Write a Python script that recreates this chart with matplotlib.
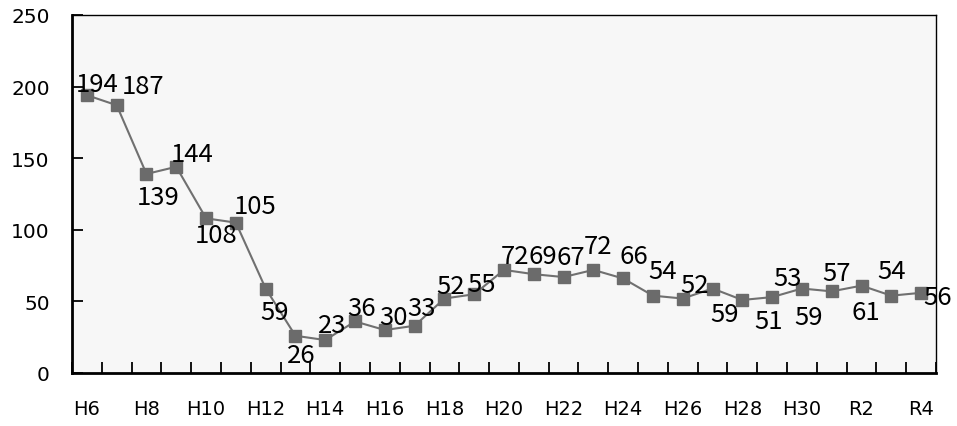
import numpy as np
import matplotlib.pyplot as plt

plt.rcParams['font.family'] = ['DejaVu Sans']

# 年度 (H6 ... H31, R2 ... R4)
nendo = ['H6', 'H7', 'H8', 'H9', 'H10', 'H11', 'H12', 'H13', 'H14', 'H15',
         'H16', 'H17', 'H18', 'H19', 'H20', 'H21', 'H22', 'H23', 'H24', 'H25',
         'H26', 'H27', 'H28', 'H29', 'H30', 'H31', 'R2', 'R3', 'R4']
valores = [194, 187, 139, 144, 108, 105, 59, 26, 23, 36,
           30, 33, 52, 55, 72, 69, 67, 72, 66, 54,
           52, 59, 51, 53, 59, 57, 61, 54, 56]

# desplazamiento de cada etiqueta en pixeles (dx, dy hacia arriba)
desp = [(10, 11), (26, 19), (12, -23), (16, 13), (10, -17), (19, 17), (9, -23),
        (6, -19), (7, 15), (7, 13), (9, 13), (7, 18), (6, 13), (7, 10),
        (11, 14), (9, 18), (7, 20), (5, 24), (11, 22), (10, 25), (12, 14),
        (12, -25), (26, -21), (15, 19), (7, -28), (5, 18), (4, -26), (0, 25),
        (17, -4)]

x = np.arange(len(valores)) + 0.5

fig = plt.figure(figsize=(9.57, 4.27), dpi=100)
ax = fig.add_axes([72 / 957, 53 / 427, 864 / 957, 358 / 427])
ax.set_facecolor('#f7f7f7')

ax.plot(x, valores, color='#707070', lw=1.5, marker='s', ms=8.5,
        mfc='#6b6b6b', mec='#6b6b6b')

for xi, v, (dx, dy) in zip(x, valores, desp):
    ax.annotate(str(v), (xi, v), xytext=(dx, dy), textcoords='offset pixels',
                ha='center', va='center', fontsize=18.5, color='black',
                family=['Noto Sans CJK JP', 'DejaVu Sans'])

ax.set_xlim(0, len(valores))
ax.set_ylim(0, 250)
ax.set_yticks(np.arange(0, 251, 50))
ax.set_xticks(np.arange(0, len(valores) + 1))
ax.set_xticklabels([])
ax.set_xticks(x[::2], minor=True)
ax.set_xticklabels(nendo[::2], minor=True)

ax.tick_params(axis='x', which='major', direction='in', length=8, width=1.3)
ax.tick_params(axis='x', which='minor', length=0, pad=19, labelsize=14)
ax.tick_params(axis='y', direction='in', length=8, width=1.3, pad=16,
               labelsize=14.5)

ax.spines['left'].set_linewidth(2)
ax.spines['bottom'].set_linewidth(2)
ax.spines['top'].set_linewidth(1)
ax.spines['right'].set_linewidth(1)

plt.savefig('out.png', dpi=100)
